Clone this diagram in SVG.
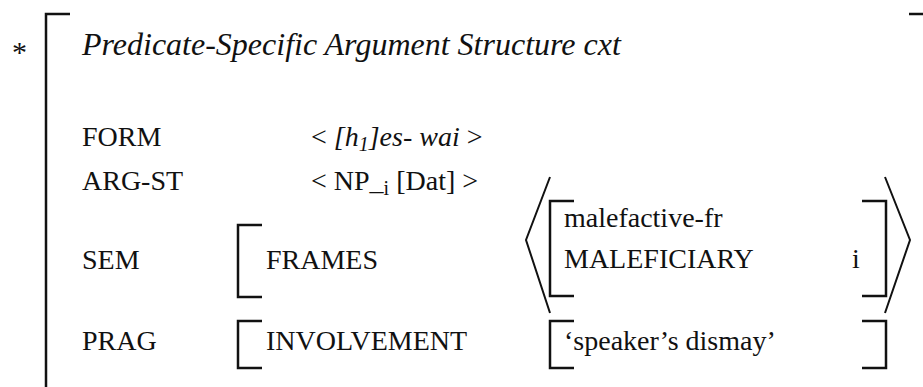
<svg xmlns="http://www.w3.org/2000/svg" width="923" height="387" viewBox="0 0 923 387" font-family="'Liberation Serif', serif">
<style>
text{font-family:"Liberation Serif","Times New Roman",serif;font-size:28px;fill:#111}
.it{font-style:italic}
.br{fill:none;stroke:#111;stroke-width:2.5;stroke-linecap:butt;stroke-linejoin:miter}
.ang{fill:none;stroke:#111;stroke-width:2}
</style>
<rect width="923" height="387" fill="#fff"/>
<g id="outer">
<text x="12" y="62" style="font-size:30px">*</text>
<polyline class="br" points="70,14 46,14 46,387"/>
<line class="br" x1="909" y1="14" x2="923" y2="14"/>
<text class="it" x="82" y="55" style="font-size:32px">Predicate-Specific Argument Structure cxt</text>
</g>
<g id="form">
<text x="82" y="146">FORM</text>
<text x="311" y="146">&lt; <tspan class="it">[h</tspan><tspan class="it" dy="5" style="font-size:20px">1</tspan><tspan class="it" dy="-5">]es- wai</tspan> &gt;</text>
</g>
<g id="argst">
<text x="82" y="190">ARG-ST</text>
<text x="311" y="190">&lt; NP_<tspan dy="5" style="font-size:20px">i</tspan><tspan dy="-5"> [Dat] &gt;</tspan></text>
</g>
<g id="sem">
<text x="82" y="269">SEM</text>
<polyline class="br" points="262,225 238,225 238,297 262,297"/>
<text x="266" y="269">FRAMES</text>
<polyline class="ang" points="550,177 526,240 550,313"/>
<polyline class="ang" points="885,177 910,240 885,313"/>
<polyline class="br" points="574,201 550,201 550,296 574,296"/>
<text x="564" y="227">malefactive-fr</text>
<text x="564" y="268">MALEFICIARY</text>
<text x="852" y="268">i</text>
<polyline class="br" points="862,201 886,201 886,296 862,296"/>
</g>
<g id="prag">
<text x="82" y="350">PRAG</text>
<polyline class="br" points="262,321 238,321 238,368 262,368"/>
<text x="266" y="350">INVOLVEMENT</text>
<polyline class="br" points="574,321 550,321 550,368 574,368"/>
<text x="564" y="350">‘speaker’s dismay’</text>
<polyline class="br" points="862,321 886,321 886,368 862,368"/>
</g>
</svg>
